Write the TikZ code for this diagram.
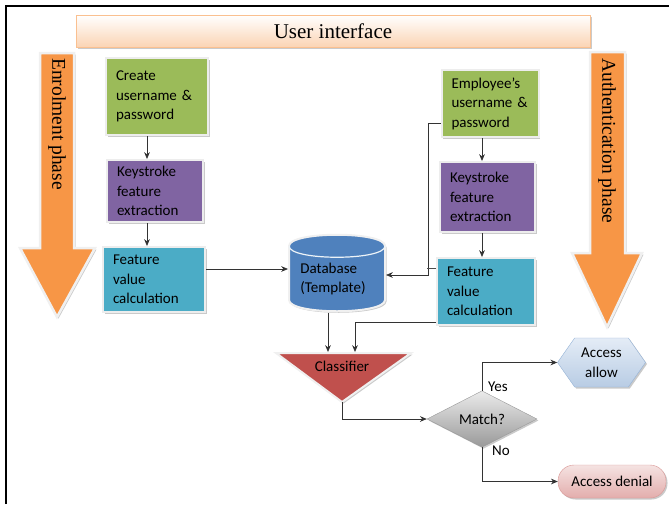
\documentclass[tikz,border=0pt]{standalone}
\usepackage{fontspec}
\setmainfont{Carlito}
\newfontfamily\serifface{Liberation Serif}
\usetikzlibrary{arrows.meta,positioning,shapes.geometric,shapes.symbols,shadows}
\definecolor{boxgreen}{HTML}{9BBB59}
\definecolor{boxpurple}{HTML}{8064A2}
\definecolor{boxteal}{HTML}{4BACC6}
\definecolor{dbblue}{HTML}{4F81BD}
\definecolor{clfred}{HTML}{C0504D}
\definecolor{phaseorange}{HTML}{F79646}
\definecolor{uipeach}{HTML}{FBD4B4}
\definecolor{uiedge}{HTML}{FAC090}
\definecolor{allowtop}{HTML}{E4ECF6}
\definecolor{allowbot}{HTML}{B8CCE4}
\definecolor{allowedge}{HTML}{95B3D7}
\definecolor{denytop}{HTML}{F5E3E2}
\definecolor{denybot}{HTML}{E3ADAC}
\definecolor{denyedge}{HTML}{D99694}
\tikzset{
  office shadow/.style={drop shadow={shadow xshift=1.5pt, shadow yshift=-1.5pt,
      fill=black!35, opacity=0.6}},
  flow box/.style={
    rectangle, draw=white!93!black, line width=2pt, office shadow,
    align=left, inner xsep=10pt, inner ysep=0pt,
    font=\fontsize{15}{19.5}\selectfont
  },
  flow text/.style={inner sep=0pt, align=center, font=\fontsize{15}{19.5}\selectfont},
  phase arrow/.style={fill=phaseorange, draw=white!94!black, line width=2.5pt,
    line join=miter, office shadow},
  phase label/.style={rotate=-90, anchor=west, inner sep=0pt,
    font=\serifface\fontsize{19.5}{22}\selectfont},
  flow arrow/.style={-{Stealth[length=2.4mm,width=2mm]}, line width=0.75pt, black!80},
  flow line/.style={line width=0.75pt, black!70}
}

\begin{document}
\begin{tikzpicture}[x=1pt, y=-1pt]
  \useasboundingbox (0,0) rectangle (669,504);
  % frame
  \draw[line width=2pt] (6,504) -- (6,6) -- (669,6);

  % user interface bar
  \node[rectangle, minimum width=514pt, minimum height=32pt, top color=white,
    bottom color=uipeach, draw=uiedge, line width=1pt, office shadow,
    font=\serifface\fontsize{21}{24}\selectfont] (ui) at (333,31) {User interface};

  % phase arrows
  \path[phase arrow] (40,53) -- (74,53) -- (74,248) -- (95,248) -- (57,317)
    -- (20,248) -- (40,248) -- cycle;
  \node[phase label] (enrol) at (57,58) {Enrolment phase};
  \path[phase arrow] (590,52) -- (625,52) -- (625,253) -- (642,253) -- (607,327)
    -- (572,253) -- (590,253) -- cycle;
  \node[phase label] (auth) at (607,58) {Authentication phase};

  % enrolment column
  \node[flow box, fill=boxgreen, text width=82pt, minimum height=77pt] (create)
    at (157,96.5) {Create\\username \&\\password};
  \node[flow box, fill=boxpurple, text width=76pt, minimum height=62pt] (keyl)
    at (155,191) {Keystroke\\feature\\extraction};
  \node[flow box, fill=boxteal, text width=82pt, minimum height=65pt] (featl)
    at (154,279.5) {Feature\\value\\calculation};

  % authentication column
  \node[flow box, fill=boxgreen, text width=77pt, minimum height=67pt] (employee)
    at (490,103.5) {Employee's\\username \&\\password};
  \node[flow box, fill=boxpurple, text width=75pt, minimum height=70pt] (keyr)
    at (487.5,197) {Keystroke\\feature\\extraction};
  \node[flow box, fill=boxteal, text width=78pt, minimum height=67pt] (featr)
    at (486,291.5) {Feature\\value\\calculation};

  % database
  \path[fill=dbblue, draw=white!94!black, line width=2pt, office shadow]
    (289,246) -- (289,300) .. controls (289,315) and (385,315) .. (385,300)
    -- (385,246) .. controls (385,231) and (289,231) .. (289,246) -- cycle;
  \draw[white!90!dbblue, line width=1.2pt]
    (289,246) .. controls (289,261) and (385,261) .. (385,246);
  \node[flow text, align=left] (db) at (333,279) {Database\\(Template)};
  \coordinate (dbL) at (288,269);
  \coordinate (dbR) at (386,275);
  \coordinate (dbB) at (328,313);

  % classifier
  \path[fill=clfred, draw=white!94!black, line width=2pt, line join=miter, office shadow]
    (276,353) -- (411,353) -- (342,402) -- cycle;
  \node[flow text] (clf) at (342,366) {Classifier};
  \coordinate (clfT) at (342,352);
  \coordinate (clfB) at (342,402);

  % decision
  \node[diamond, minimum width=110pt, minimum height=40pt, inner sep=0pt,
    top color=black!8, bottom color=black!40, draw=black!40, office shadow,
    font=\fontsize{15}{19.5}\selectfont] (match) at (482,419) {Match?};
  \node[signal, signal to=east and west, signal pointer angle=110,
    minimum width=88pt, minimum height=49pt, inner sep=0pt, align=center,
    top color=allowtop, bottom color=allowbot, draw=allowedge, office shadow,
    font=\fontsize{15}{19.5}\selectfont] (allow) at (601.5,362.5) {Access\\allow};
  \node[rectangle, rounded corners=16pt, minimum width=108pt, minimum height=33pt,
    top color=denytop, bottom color=denybot, draw=denyedge, office shadow,
    font=\fontsize{15}{19.5}\selectfont] (deny) at (612,481.5) {Access denial};
  \node[flow text] (yes) at (498,387) {Yes};
  \node[flow text] (no) at (501,451) {No};

  % connectors
  \draw[flow arrow] ([xshift=-10pt]create.south) -- ([xshift=-10pt]create.south |- keyl.north);
  \draw[flow arrow] ([xshift=-8pt]keyl.south) -- ([xshift=-8pt]keyl.south |- featl.north);
  \draw[flow arrow] (featl.east |- dbL) -- (dbL);
  \draw[flow arrow] ([xshift=-8pt]employee.south) -- ([xshift=-8pt]employee.south |- keyr.north);
  \draw[flow arrow] ([xshift=-5.5pt]keyr.south) -- ([xshift=-5.5pt]keyr.south |- featr.north);
  \draw[flow arrow] ([yshift=-19.5pt]employee.west) -| ([xshift=42pt]dbR) -- (dbR);
  \draw[flow line] ([yshift=23.5pt]featr.west) -- ++(-9,0);
  \draw[flow arrow] (dbB) -- (dbB |- clfT);
  \draw[flow arrow] ([yshift=-30.5pt]featr.west) -| ([xshift=13pt]clfT);
  \draw[flow arrow] (clfB) |- (match.west);
  \draw[flow arrow] (match.north) |- (allow.west);
  \draw[flow arrow] (match.south) |- (deny.west);
\end{tikzpicture}
\end{document}
